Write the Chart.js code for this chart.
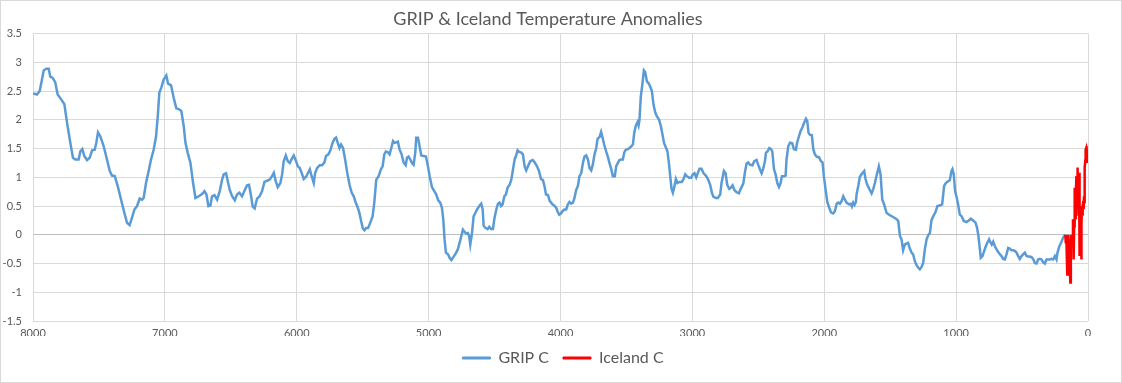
<!DOCTYPE html>
<html>
<head>
<meta charset="utf-8">
<script src="https://cdn.jsdelivr.net/npm/chart.js@4.4.1/dist/chart.umd.min.js"></script>
<style>
  html, body { margin: 0; padding: 0; background: #ffffff; }
  #wrap { width: 1122px; height: 383px; position: relative; }
</style>
</head>
<body>
<div id="wrap"><canvas id="c" width="1122" height="383"></canvas></div>
<script>
const chartTitle = 'GRIP & Iceland Temperature Anomalies';
const seriesNames = ['GRIP C', 'Iceland C'];

const gripYears = [
8000,7970,7949,7932,7919,7899,7881,7869,7851,7831,7813,7788,7762,7742,7717,7697,7679,7654,7641,7626,7611,7590,7570,7552,7532,7520,7507,7489,7464,7439,7418,7401,7380,7358,7332,7307,7287,7267,7249,7231,7211,7191,7173,7161,7143,7123,7105,7085,7067,7054,7042,7027,7009,6989,6976,6953,6933,6913,6888,6875,6857,
6844,6827,6806,6786,6768,6743,6718,6700,6685,6670,6655,6642,6624,6604,6584,6566,6554,6536,6523,6508,6490,6470,6453,6435,6415,6397,6377,6362,6346,6334,6319,6301,6281,6263,6245,6225,6205,6190,6174,6159,6144,6124,6111,6099,6083,6068,6053,6038,6023,6005,5992,5977,5962,5947,5929,5914,5901,5886,5871,5861,5846,5826,5808,5790,5778,5760,5745,5730,5714,5702,5689,5676,5664,5649,5633,5618,5600,5583,5568,5553,5537,5525,5512,5499,5487,5474,5459,5441,
5425,5412,5397,5379,5362,5349,5336,5324,5311,5296,5283,5270,5258,5245,5233,5220,5205,5190,5174,5164,5152,5139,5126,5114,5101,5094,5081,5071,5056,5038,5020,5005,4992,4975,4957,4942,4927,4912,4899,4889,4879,4869,4853,4841,4828,4810,4793,4778,4765,4752,4740,4727,4714,4702,4692,4684,4671,4659,4646,4633,4616,4601,4590,4583,4570,4553,4540,4527,4512,4502,4487,4474,4462,4451,4439,4426,4414,4401,4386,4373,4360,4348,4338,4325,4313,4297,4285,4272,4260,4247,4229,4211,4196,4178,4163,4148,4133,4120,4110,4095,4082,
4061,4048,4033,4023,4010,3997,3985,3970,3957,3944,3932,3919,3906,3894,3881,3868,3856,3843,3830,3818,3805,3792,3780,3767,3755,3742,3729,3719,3704,3692,3681,3669,3654,3641,3629,3616,3603,3588,3578,3565,3553,3540,3527,3517,3505,3489,3477,3464,3451,3441,3429,3416,3408,3401,3391,3378,3368,3358,3345,3333,3320,3307,3295,3282,3269,3252,3239,3229,3214,3201,3189,3178,3168,3158,3148,3138,3125,3113,3098,3080,3067,3054,3042,3024,3009,2996,2984,2971,2961,2946,2931,2915,2898,2882,2865,2852,2840,2822,2807,2789,
2779,2761,2748,2736,2720,2708,2695,2682,2665,2647,2635,2614,2602,2589,2576,2564,2544,2531,2513,2501,2488,2475,2463,2450,2442,2430,2417,2404,2394,2381,2369,2356,2343,2331,2321,2306,2293,2286,2273,2260,2243,2230,2215,2205,2192,2180,2167,2154,2139,2129,2119,2109,2094,2083,2071,2058,2040,2025,2013,2003,1990,1977,1962,1949,1932,1919,1906,1894,1881,1868,1856,1843,1831,1813,1800,1790,1780,1770,1760,1755,1742,1730,1712,1697,1687,1674,1659,1641,1629,1616,1603,1586,1573,1560,1548,1527,1502,1477,1451,1439,1426,
1414,1402,1389,1376,1364,1351,1338,1326,1313,1300,1288,1275,1262,1250,1237,1224,1212,1199,1187,1174,1157,1142,1124,1106,1091,1078,1061,1048,1035,1028,1018,1008,997,985,972,957,942,922,904,889,871,853,841,831,820,813,800,787,775,762,750,740,730,719,706,694,681,668,656,643,631,618,605,593,580,567,555,542,529,517,504,492,479,466,454,441,428,416,403,390,378,365,352,340,327,315,302,289,277,264,251,239,231,219,203,188,178,171
];
const gripTemps = [
2.46,2.44,2.50,2.70,2.86,2.89,2.89,2.75,2.73,2.65,2.44,2.36,2.27,1.95,1.60,1.34,1.31,1.31,1.45,1.49,1.37,1.30,1.34,1.47,1.48,1.60,1.78,1.71,1.54,1.31,1.11,1.03,1.02,0.85,0.61,0.38,0.21,0.17,0.30,0.44,0.50,0.63,0.61,0.64,0.90,1.11,1.31,1.48,1.71,2.06,2.47,2.56,2.70,2.77,2.63,2.60,2.38,2.20,2.18,2.15,1.89,
1.60,1.43,1.25,0.90,0.64,0.67,0.71,0.76,0.70,0.50,0.51,0.67,0.69,0.61,0.76,0.96,1.05,1.07,0.93,0.78,0.67,0.60,0.70,0.73,0.67,0.76,0.86,0.87,0.67,0.49,0.46,0.63,0.67,0.76,0.92,0.94,0.96,1.01,1.08,0.93,0.83,0.90,1.05,1.28,1.38,1.28,1.25,1.32,1.38,1.28,1.19,1.16,1.07,0.97,1.01,1.08,1.14,1.01,0.90,1.07,1.16,1.21,1.21,1.26,1.37,1.40,1.47,1.59,1.67,1.69,1.60,1.51,1.57,1.51,1.31,1.09,0.87,0.73,0.67,0.56,0.47,0.38,0.24,0.11,0.08,0.12,0.12,0.22,
0.32,0.56,0.96,1.02,1.14,1.19,1.40,1.45,1.44,1.40,1.51,1.63,1.60,1.61,1.62,1.48,1.40,1.26,1.21,1.34,1.36,1.31,1.25,1.22,1.43,1.69,1.69,1.57,1.38,1.37,1.36,1.19,1.02,0.83,0.76,0.70,0.60,0.56,0.47,0.27,-0.08,-0.31,-0.34,-0.40,-0.44,-0.38,-0.32,-0.25,-0.14,-0.02,0.09,0.05,0.02,0.03,-0.03,-0.17,0.03,0.32,0.38,0.44,0.50,0.54,0.44,0.16,0.12,0.10,0.14,0.10,0.10,0.27,0.44,0.54,0.56,0.50,0.53,0.67,0.70,0.82,0.87,0.96,1.14,1.31,1.37,1.47,1.44,1.43,1.40,1.19,1.12,1.19,1.28,1.30,1.26,1.19,1.11,0.97,0.95,0.83,0.70,0.69,0.59,
0.53,0.51,0.47,0.41,0.35,0.37,0.41,0.44,0.44,0.53,0.57,0.54,0.56,0.64,0.78,0.85,1.02,1.07,1.25,1.36,1.38,1.31,1.16,1.12,1.22,1.40,1.51,1.67,1.70,1.79,1.69,1.57,1.45,1.36,1.25,1.15,1.02,1.02,1.19,1.25,1.30,1.31,1.31,1.43,1.48,1.49,1.51,1.54,1.57,1.77,1.90,1.96,1.90,2.00,2.41,2.64,2.86,2.83,2.67,2.64,2.58,2.50,2.27,2.13,2.06,2.00,1.89,1.77,1.59,1.52,1.45,1.25,1.02,0.80,0.73,0.82,0.97,0.90,0.92,0.92,0.97,1.05,1.02,0.99,0.99,1.05,1.07,1.00,1.06,1.15,1.15,1.07,1.03,0.97,0.87,0.73,0.66,0.64,0.64,0.70,
0.90,1.11,1.07,0.87,0.80,0.82,0.86,0.78,0.74,0.72,0.79,0.89,1.08,1.24,1.26,1.22,1.21,1.28,1.30,1.22,1.14,1.07,1.15,1.28,1.43,1.45,1.51,1.49,1.45,1.14,1.05,0.90,0.83,0.90,1.02,1.02,1.03,1.31,1.54,1.60,1.59,1.49,1.48,1.61,1.71,1.80,1.86,1.94,2.02,1.98,1.77,1.74,1.73,1.49,1.40,1.36,1.35,1.28,1.26,1.02,0.79,0.57,0.47,0.39,0.37,0.41,0.54,0.56,0.54,0.59,0.67,0.61,0.56,0.53,0.54,0.49,0.56,0.52,0.57,0.70,0.85,1.01,1.07,1.11,0.97,0.87,0.80,0.72,0.79,0.90,1.03,1.19,1.05,0.61,0.54,0.38,0.34,0.31,0.27,0.24,-0.02,
-0.08,-0.27,-0.17,-0.15,-0.14,-0.24,-0.31,-0.34,-0.46,-0.53,-0.57,-0.60,-0.56,-0.49,-0.25,-0.08,-0.01,0.03,0.25,0.32,0.39,0.50,0.51,0.53,0.85,0.90,0.93,0.95,1.11,1.14,1.05,0.76,0.66,0.53,0.35,0.32,0.24,0.22,0.25,0.28,0.25,0.21,0.12,-0.02,-0.25,-0.40,-0.37,-0.28,-0.20,-0.13,-0.08,-0.13,-0.17,-0.12,-0.20,-0.25,-0.30,-0.34,-0.37,-0.42,-0.43,-0.34,-0.23,-0.24,-0.27,-0.27,-0.28,-0.31,-0.37,-0.42,-0.37,-0.34,-0.31,-0.37,-0.38,-0.38,-0.39,-0.42,-0.49,-0.50,-0.43,-0.42,-0.43,-0.48,-0.50,-0.43,-0.43,-0.43,-0.42,-0.43,-0.37,-0.43,-0.31,-0.21,-0.13,-0.05,-0.01,0.00
];

const icelandYears = [172,168,164,160,157,154,151,148,144,140,137,134,130,126,122,119,114,111,109,105,101,97,94,91,88,85,83,80,78,75,73,70,68,65,63,60,56,53,51,48,45,43,40,38,35,33,30,28,25,23,20,18,15,13,10,8,5,3,1,0];
const icelandTemps = [0.00,-0.15,-0.02,-0.45,-0.69,-0.10,0.00,-0.30,-0.08,-0.35,-0.55,-0.83,-0.20,0.00,-0.15,-0.20,0.27,-0.10,-0.43,0.15,0.82,0.40,0.27,0.70,1.02,0.55,0.67,0.90,1.17,0.60,0.33,0.80,1.08,0.70,-0.37,0.20,0.30,-0.10,-0.43,0.20,0.50,0.45,0.33,0.50,0.59,0.45,0.67,0.55,0.85,1.17,1.30,1.48,1.50,1.54,1.35,1.25,1.45,1.48,1.30,1.25];

const gripData = gripYears.map((y, i) => ({ x: y, y: gripTemps[i] }));
const icelandData = icelandYears.map((y, i) => ({ x: y, y: icelandTemps[i] }));

const frame = {
  id: 'frame',
  afterLayout(chart) {
    if (chart.legend) { chart.legend.left += 19; chart.legend.right += 19; }
    if (chart.titleBlock) { chart.titleBlock.left += 4; chart.titleBlock.right += 4; }
  },
  afterDraw(chart) {
    const ctx = chart.ctx;
    ctx.save();
    ctx.strokeStyle = '#D9D9D9';
    ctx.lineWidth = 1;
    ctx.strokeRect(0.5, 0.5, chart.width - 1, chart.height - 1);
    ctx.restore();
  }
};

const FONT = 'Lato, "Open Sans", "Liberation Sans", sans-serif';

new Chart(document.getElementById('c'), {
  type: 'line',
  data: {
    datasets: [
      { label: seriesNames[0], data: gripData, borderColor: '#5B9BD5', backgroundColor: '#5B9BD5', borderWidth: 2.5, pointRadius: 0, tension: 0, fill: false, order: 2 },
      { label: seriesNames[1], data: icelandData, borderColor: '#FF0000', backgroundColor: '#FF0000', borderWidth: 2.5, pointRadius: 0, tension: 0, fill: false, order: 1 }
    ]
  },
  options: {
    responsive: false,
    animation: false,
    events: [],
    layout: { padding: { left: 0, right: 34, top: 0, bottom: 7 } },
    plugins: {
      title: {
        display: true, text: chartTitle, color: '#595959',
        font: { family: FONT, size: 18, weight: 'normal' },
        padding: { top: 8, bottom: 4 }
      },
      legend: {
        position: 'bottom',
        labels: {
          color: '#595959', boxWidth: 28, boxHeight: 2,
          font: { family: FONT, size: 16 }, padding: 14,
          sort: (a, b) => a.datasetIndex - b.datasetIndex,
          generateLabels: (chart) => Chart.defaults.plugins.legend.labels.generateLabels(chart).map(l => ({ ...l, lineWidth: 1 }))
        }
      },
      tooltip: { enabled: false }
    },
    scales: {
      x: {
        type: 'linear', reverse: true, min: 0, max: 8000,
        ticks: { stepSize: 1000, color: '#595959', font: { family: FONT, size: 11 }, maxRotation: 0, padding: 6, callback: (v) => String(v) },
        grid: { color: '#D9D9D9', drawTicks: false },
        border: { display: false },
        afterFit: (s) => { s.height = 15; }
      },
      y: {
        min: -1.5, max: 3.5,
        ticks: { stepSize: 0.5, color: '#595959', font: { family: FONT, size: 11 }, padding: 11, callback: (v) => String(v) },
        grid: { color: (ctx) => (ctx.tick && ctx.tick.value === 0 ? '#BFBFBF' : '#D9D9D9'), drawTicks: false },
        border: { display: false },
        afterFit: (s) => { s.width = 33; }
      }
    }
  },
  plugins: [frame]
});
</script>
</body>
</html>
